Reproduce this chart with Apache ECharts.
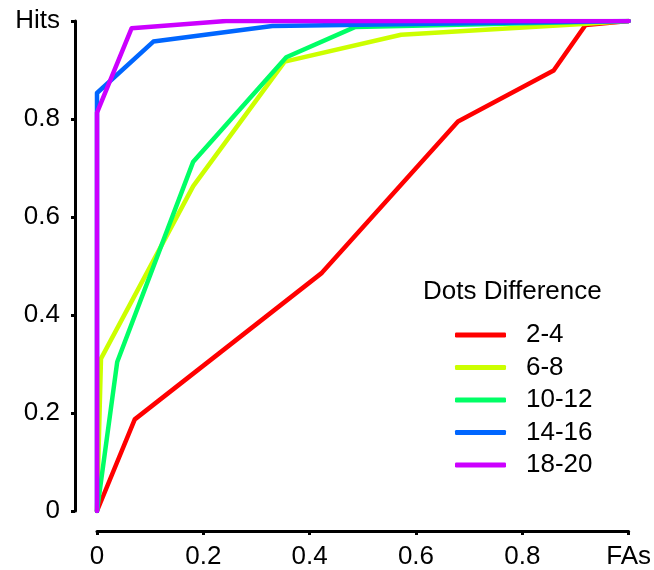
<!DOCTYPE html>
<html>
<head>
<meta charset="utf-8">
<script src="https://cdn.jsdelivr.net/npm/echarts@6/dist/echarts.min.js"></script>
<style>
  html, body { margin: 0; padding: 0; background: #fff; }
  #chart { width: 654px; height: 570px; }
</style>
</head>
<body>
<div id="chart"></div>
<script>
// ROC-style curves: hit rate vs false-alarm rate per dot-difference group
const groups = ['2-4', '6-8', '10-12', '14-16', '18-20'];
const colors = ['#FF0000', '#CCFF00', '#00FF66', '#0066FF', '#CC00FF'];

// [false alarms, hits] per group
const curve24 = [[0, 0], [0.071, 0.187], [0.423, 0.486], [0.679, 0.795], [0.859, 0.899], [0.919, 0.992], [1, 1]];
const curve68 = [[0, 0], [0.0075, 0.311], [0.181, 0.663], [0.353, 0.917], [0.572, 0.972], [0.913, 0.994], [1, 1]];
const curve1012 = [[0, 0], [0.038, 0.304], [0.181, 0.713], [0.356, 0.926], [0.486, 0.988], [1, 1]];
const curve1416 = [[0, 0], [0, 0.853], [0.106, 0.958], [0.33, 0.99], [1, 1]];
const curve1820 = [[0, 0], [0, 0.813], [0.065, 0.985], [0.243, 1.0], [1, 1]];
const curves = [curve24, curve68, curve1012, curve1416, curve1820];

const xTickLabels = { 0: '0', 0.2: '0.2', 0.4: '0.4', 0.6: '0.6', 0.8: '0.8', 1: 'FAs' };
const yTickLabels = { 0: '0', 0.2: '0.2', 0.4: '0.4', 0.6: '0.6', 0.8: '0.8', 1: 'Hits' };

const FONT = 'Liberation Sans, Arial, sans-serif';
const FS = 26;
const labelFor = (map) => (v) => {
  const k = Math.round(v * 10) / 10;
  return map[k] !== undefined ? map[k] : '';
};

const chart = echarts.init(document.getElementById('chart'));
chart.setOption({
  animation: false,
  backgroundColor: '#fff',
  grid: { left: 97, right: 24, top: 21, bottom: 57 },
  xAxis: {
    type: 'value', min: 0, max: 1, interval: 0.2, offset: 20,
    axisLine: { onZero: false, lineStyle: { color: '#000', width: 3, cap: 'round' } },
    axisTick: { length: 4, lineStyle: { color: '#000', width: 3 } },
    axisLabel: { color: '#000', fontSize: FS, fontFamily: FONT, margin: 13, formatter: labelFor(xTickLabels) },
    splitLine: { show: false }
  },
  yAxis: {
    type: 'value', min: 0, max: 1, interval: 0.2, offset: 22,
    axisLine: { show: true, onZero: false, lineStyle: { color: '#000', width: 3, cap: 'round' } },
    axisTick: { show: true, length: 4, lineStyle: { color: '#000', width: 3 } },
    axisLabel: { color: '#000', fontSize: FS, fontFamily: FONT, margin: 15, formatter: labelFor(yTickLabels) },
    splitLine: { show: false }
  },
  graphic: [{
    type: 'text', left: 423, top: 279,
    style: { text: 'Dots Difference', fill: '#000', font: FS + 'px ' + FONT }
  }],
  legend: {
    orient: 'vertical', left: 450, top: 317,
    icon: 'roundRect',
    itemWidth: 51, itemHeight: 5, itemGap: 6.5,
    textStyle: { color: '#000', fontSize: FS, fontFamily: FONT, padding: [0, 0, 0, 15] },
    data: groups
  },
  series: groups.map((g, i) => ({
    name: g, type: 'line', data: curves[i],
    symbol: 'none', z: 2 + i,
    color: colors[i],
    lineStyle: { width: 4.5, color: colors[i], cap: 'round', join: 'round' }
  }))
});
</script>
</body>
</html>
